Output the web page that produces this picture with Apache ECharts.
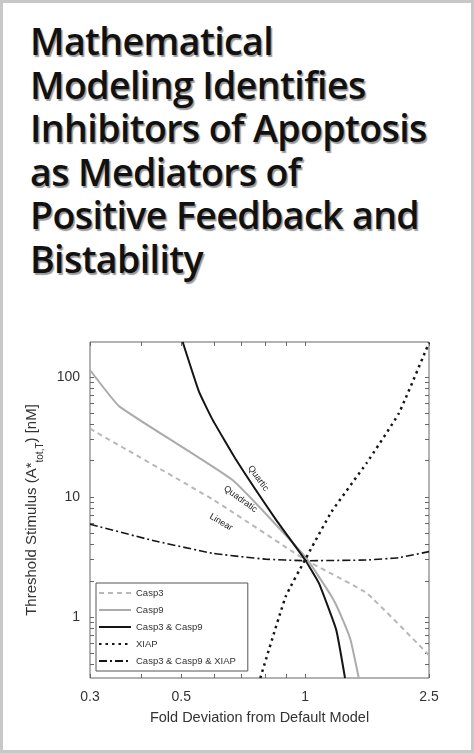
<!DOCTYPE html>
<html><head><meta charset="utf-8">
<script src="https://cdn.jsdelivr.net/npm/echarts@6/dist/echarts.min.js"></script>
<style>
html,body{margin:0;padding:0;width:474px;height:753px;overflow:hidden;background:#fff}
#frame{position:absolute;left:0;top:0;width:468px;height:747px;border:3px solid #c8c8c8}
#title{position:absolute;left:30px;top:19px;font-family:"Open Sans",sans-serif;font-weight:600;font-size:37.5px;line-height:43.5px;color:#111;text-shadow:1.5px 1.5px 1px #999;letter-spacing:-0.6px;white-space:nowrap}
#chart{position:absolute;left:0;top:0;width:474px;height:753px}
</style></head><body>
<div id="frame"></div>
<div id="title">Mathematical<br>Modeling Identifies<br>Inhibitors of Apoptosis<br>as Mediators of<br>Positive Feedback and<br>Bistability</div>
<div id="chart"></div>
<script>
const seriesNames = ['Casp3','Casp9','Casp3 & Casp9','XIAP','Casp3 & Casp9 & XIAP'];
const casp3 = [[0.3,37],[0.6,9.4],[1,3.0],[1.41,1.58],[2,0.48]];
const casp9 = [[0.3,114],[0.354,56.5],[0.666,13.8],[1,3.18],[1.16,1.48],[1.22,1.04],[1.29,0.64],[1.35,0.31]];
const casp39 = [[0.504,195],[0.552,75.3],[0.596,43.8],[0.68,20.3],[0.85,6.44],[1,2.98],[1.08,1.91],[1.19,0.78],[1.25,0.31]];
const xiap = [[0.778,0.31],[0.897,1.48],[1,3.0],[1.16,7.54],[1.41,19.1],[1.69,49.8],[2,192]];
const all3 = [[0.3,5.92],[0.42,4.39],[0.596,3.39],[0.8,3.03],[1,2.94],[1.41,2.98],[1.69,3.12],[2,3.5]];
const xTickValues = [0.3,0.5,1,2];
const xTickLabels = ['0.3','0.5','1','2.5'];
const xMinorTicks = [0.3,0.4,0.5,0.6,0.7,0.8,0.9,1,2];
const yTickValues = [1,10,100];
const yMinorTicks = [0.4,0.5,0.6,0.7,0.8,0.9,1,2,3,4,5,6,7,8,9,10,20,30,40,50,60,70,80,90,100];

const chart = echarts.init(document.getElementById('chart'));
const axFont = {fontFamily:'Liberation Sans, Arial', fontSize:14, color:'#333'};
const tick = {show:true, inside:true, length:4, lineStyle:{color:'#666'}};
const gridBox = {left:90, top:342, width:339, height:336};
function ln(name, data, color, type, w){
  return {name, type:'line', data, symbol:'none', showSymbol:false, smooth:0.12, xAxisIndex:0, yAxisIndex:0,
    lineStyle:{color, type, width:w}, itemStyle:{color}};
}
chart.setOption({
  animation:false,
  grid:{...gridBox, show:true, borderColor:'#666', borderWidth:1},
  legend:{orient:'vertical', left:96, top:583, width:140, itemWidth:32, itemHeight:10, itemGap:7,
    padding:[5,12,5,2], borderColor:'#555', borderWidth:1, backgroundColor:'#fff',
    itemStyle:{opacity:0},
    textStyle:{fontFamily:'Liberation Sans, Arial', fontSize:9.5, color:'#333'}, data:seriesNames},
  xAxis:[{type:'log', min:0.3, max:2, logBase:10, position:'bottom',
    name:'Fold Deviation from Default Model', nameLocation:'middle', nameGap:32,
    nameTextStyle:{fontFamily:'Liberation Sans, Arial', fontSize:14.5, color:'#333'},
    axisLine:{show:false}, splitLine:{show:false}, minorTick:{show:false},
    axisTick:{...tick, customValues:xMinorTicks},
    axisLabel:{...axFont, margin:12, customValues:xTickValues,
      formatter:v=>xTickLabels[xTickValues.findIndex(t=>Math.abs(t-v)<1e-6)]}},
   {type:'log', min:0.3, max:2, position:'top', axisLine:{show:false}, splitLine:{show:false},
    axisTick:{...tick, customValues:xMinorTicks}, axisLabel:{show:false}}],
  yAxis:[{type:'log', min:0.31, max:195, logBase:10, position:'left',
    name:'Threshold Stimulus (A{s|*}{sub|tot,T}) [nM]', nameLocation:'middle', nameGap:40,
    nameTextStyle:{fontFamily:'Liberation Sans, Arial', fontSize:15, color:'#333',
      rich:{s:{fontSize:15,color:'#333',fontFamily:'Liberation Sans, Arial'},
            sub:{fontSize:10,color:'#333',verticalAlign:'bottom',padding:[0,0,-6,0],fontFamily:'Liberation Sans, Arial'}}},
    axisLine:{show:false}, splitLine:{show:false},
    axisTick:{...tick, customValues:yMinorTicks},
    axisLabel:{...axFont, margin:10, customValues:yTickValues, formatter:v=>String(Math.round(v))}},
   {type:'log', min:0.31, max:195, position:'right', axisLine:{show:false}, splitLine:{show:false},
    axisTick:{...tick, customValues:yMinorTicks}, axisLabel:{show:false}}],
  series:[
    ln(seriesNames[0], casp3, '#b8b8b8', [5,4], 2),
    ln(seriesNames[1], casp9, '#ababab', 'solid', 2),
    ln(seriesNames[2], casp39, '#151515', 'solid', 2),
    ln(seriesNames[3], xiap, '#151515', [2.5,4], 2.5),
    ln(seriesNames[4], all3, '#151515', [8,3,2,3], 1.6)
  ],
  graphic:[
    {type:'text', left:246, top:464, rotation:-Math.PI*0.3, style:{text:'Quartic', font:'9px Liberation Sans, Arial', fill:'#222'}},
    {type:'text', left:222, top:484, rotation:-Math.PI*0.2, style:{text:'Quadratic', font:'9px Liberation Sans, Arial', fill:'#222'}},
    {type:'text', left:208, top:512, rotation:-Math.PI*0.17, style:{text:'Linear', font:'9px Liberation Sans, Arial', fill:'#222'}}
  ]
});
</script></body></html>
